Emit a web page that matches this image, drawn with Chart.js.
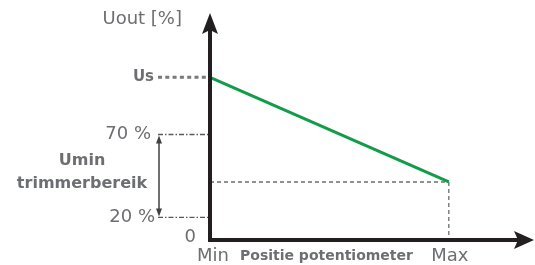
<!DOCTYPE html>
<html>
<head>
<meta charset="utf-8">
<script src="https://cdn.jsdelivr.net/npm/chart.js@4.4.1/dist/chart.umd.min.js"></script>
<style>
  body { margin: 0; background: #fff; }
  #wrap { width: 535px; height: 265px; }
</style>
</head>
<body>
<div id="wrap"><canvas id="chart"></canvas></div>
<script>
// Schematic values (not to scale in the original drawing)
const positions = [0, 100];          // Min .. Max potentiometer position
const uout = [108, 38.5];            // Us at Min, Umin at Max
const xTickValues = [0, 100];
const xTickLabels = ['Min', 'Max'];
const yTickValues = [0, 15, 70];
const yTickLabels = ['0', '20 %', '70 %'];
const usValue = 108;
const usLabel = 'Us';

const gray = '#6d6e71';
const axisColor = '#231f20';
const font = '"DejaVu Sans", sans-serif';

// Draws the axes, arrows, helper lines and all labels
const schemePlugin = {
  id: 'scheme',
  beforeDatasetsDraw(chart) {
    const ctx = chart.ctx;
    const x = chart.scales.x, y = chart.scales.y;
    const x0 = x.getPixelForValue(0);
    const xMax = x.getPixelForValue(xTickValues[1]);
    const yEnd = y.getPixelForValue(uout[1]);
    const y0 = y.getPixelForValue(0);
    ctx.save();
    ctx.strokeStyle = gray;
    ctx.lineWidth = 1.3;
    ctx.setLineDash([4, 3]);
    ctx.beginPath();
    ctx.moveTo(x0, yEnd); ctx.lineTo(xMax, yEnd);
    ctx.moveTo(xMax, yEnd); ctx.lineTo(xMax, y0);
    ctx.stroke();
    ctx.restore();
  },
  afterDatasetsDraw(chart) {
    const ctx = chart.ctx;
    const x = chart.scales.x, y = chart.scales.y;
    const x0 = x.getPixelForValue(0);
    const y0 = y.getPixelForValue(0);
    ctx.save();

    // Us dotted line
    const yUs = y.getPixelForValue(usValue);
    ctx.strokeStyle = '#77787b';
    ctx.lineWidth = 3;
    ctx.setLineDash([4, 3.3]);
    ctx.beginPath();
    ctx.moveTo(158, yUs); ctx.lineTo(x0, yUs);
    ctx.stroke();

    // 20 % and 70 % dash-dot lines
    const y70 = y.getPixelForValue(yTickValues[2]);
    const y20 = y.getPixelForValue(yTickValues[1]);
    ctx.strokeStyle = '#58595b';
    ctx.lineWidth = 1.4;
    ctx.setLineDash([5, 2, 1.5, 2]);
    ctx.beginPath();
    ctx.moveTo(158, y70); ctx.lineTo(x0, y70);
    ctx.moveTo(158, y20); ctx.lineTo(x0, y20);
    ctx.stroke();

    // double arrow for trimmer range
    ctx.setLineDash([]);
    ctx.strokeStyle = '#414042';
    ctx.fillStyle = '#414042';
    ctx.lineWidth = 1.5;
    const ax = 159;
    ctx.beginPath();
    ctx.moveTo(ax, y70 + 6); ctx.lineTo(ax, y20 - 6);
    ctx.stroke();
    ctx.beginPath();
    ctx.moveTo(ax, y70 + 1); ctx.lineTo(ax - 3, y70 + 9); ctx.lineTo(ax + 3, y70 + 9); ctx.closePath();
    ctx.moveTo(ax, y20 - 1); ctx.lineTo(ax - 3, y20 - 9); ctx.lineTo(ax + 3, y20 - 9); ctx.closePath();
    ctx.fill();

    // axes with arrow heads
    ctx.strokeStyle = axisColor;
    ctx.fillStyle = axisColor;
    ctx.lineWidth = 4;
    ctx.beginPath();
    ctx.moveTo(x0, y0 + 2); ctx.lineTo(x0, 30);
    ctx.moveTo(x0 - 2, y0); ctx.lineTo(520, y0);
    ctx.stroke();
    ctx.beginPath();
    ctx.moveTo(x0, 13); ctx.lineTo(x0 - 8, 34); ctx.lineTo(x0, 30); ctx.lineTo(x0 + 8, 34); ctx.closePath();
    ctx.moveTo(534, y0); ctx.lineTo(514, y0 - 9); ctx.lineTo(518, y0); ctx.lineTo(514, y0 + 9); ctx.closePath();
    ctx.fill();

    // labels
    ctx.fillStyle = gray;
    ctx.textBaseline = 'middle';
    ctx.textAlign = 'right';
    ctx.font = '18px ' + font;
    ctx.fillText('Uout [%]', 182, 19);
    ctx.fillText(yTickLabels[2], 151, y70);
    ctx.fillText(yTickLabels[1], 155, y20);
    ctx.fillText(yTickLabels[0], 196, y0 - 3);
    ctx.font = 'bold 15px ' + font;
    ctx.fillText(usLabel, 154, yUs);

    ctx.textAlign = 'center';
    ctx.font = 'bold 16px ' + font;
    ctx.fillText('Umin', 82, 161);
    ctx.fillText('trimmerbereik', 82, 184);

    ctx.font = '18px ' + font;
    ctx.textAlign = 'left';
    ctx.fillText(xTickLabels[0], x.getPixelForValue(xTickValues[0]) - 13, 256);
    ctx.textAlign = 'center';
    ctx.fillText(xTickLabels[1], x.getPixelForValue(xTickValues[1]) + 1, 256);
    ctx.font = 'bold 14px ' + font;
    ctx.textAlign = 'left';
    ctx.fillText('Positie potentiometer', 240, 256);
    ctx.restore();
  }
};

new Chart(document.getElementById('chart'), {
  type: 'line',
  data: {
    datasets: [{
      data: positions.map((p, i) => ({ x: p, y: uout[i] })),
      borderColor: '#129b48',
      borderWidth: 3,
      pointRadius: 0,
      fill: false
    }]
  },
  options: {
    responsive: true,
    maintainAspectRatio: false,
    animation: false,
    layout: { padding: { left: 210, right: 5, top: 14, bottom: 25 } },
    plugins: { legend: { display: false }, tooltip: { enabled: false } },
    scales: {
      x: { type: 'linear', min: 0, max: 134, display: false },
      y: { type: 'linear', min: 0, max: 150, display: false }
    }
  },
  plugins: [schemePlugin]
});
</script>
</body>
</html>
